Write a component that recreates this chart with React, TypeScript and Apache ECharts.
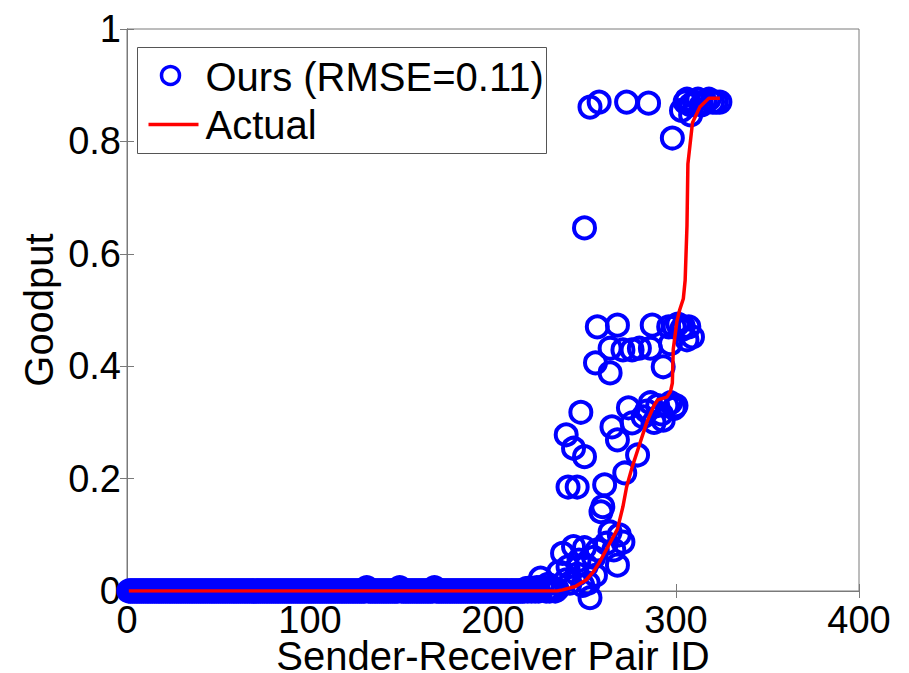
import React, { useEffect, useRef } from "react";
import * as echarts from "echarts";

// Ours (predicted goodput) for pair IDs 1..225 (read as the flat band at 0)
const oursFlatGoodput: number[] = [
  0, 0, 0, 0, 0, 0, 0, 0, 0, 0, 0, 0, 0, 0, 0, 0, 0, 0, 0, 0, 0, 0, 0, 0, 0,
  0, 0, 0, 0, 0, 0, 0, 0, 0, 0, 0, 0, 0, 0, 0, 0, 0, 0, 0, 0, 0, 0, 0, 0, 0,
  0, 0, 0, 0, 0, 0, 0, 0, 0, 0, 0, 0, 0, 0, 0, 0, 0, 0, 0, 0, 0, 0, 0, 0, 0,
  0, 0, 0, 0, 0, 0, 0, 0, 0, 0, 0, 0, 0, 0, 0, 0, 0, 0, 0, 0, 0, 0, 0, 0, 0,
  0, 0, 0, 0, 0, 0, 0, 0, 0, 0, 0, 0, 0, 0, 0, 0, 0, 0, 0, 0, 0, 0, 0, 0, 0,
  0, 0, 0, 0, 0, 0.006, 0, 0, 0, 0, 0, 0, 0, 0, 0, 0, 0, 0, 0, 0, 0, 0, 0, 0.006, 0,
  0, 0, 0, 0, 0, 0, 0, 0, 0, 0, 0, 0, 0, 0, 0, 0, 0, 0.006, 0, 0, 0, 0, 0, 0, 0,
  0, 0, 0, 0, 0, 0, 0, 0, 0, 0, 0, 0, 0, 0, 0, 0, 0, 0, 0, 0, 0, 0, 0, 0, 0,
  0, 0, 0, 0, 0, 0, 0, 0, 0, 0, 0, 0, 0, 0, 0, 0, 0, 0.004, 0, 0.005, 0, 0.004, 0, 0.006, 0,
];

// Ours for the rising part: [pair ID, goodput]
const oursRisingPoints: [number, number][] = [
  [226, 0.023], [227, 0.007], [229, 0], [230, 0.012], [231, 0], [232, 0.004], [233, 0.005],
  [234, 0], [235, 0.003], [236, 0.034], [238, 0.067],
  [240, 0.02], [241, 0.043], [242, 0.014], [244, 0.079], [246, 0.03], [247, 0.055],
  [249, 0.01], [250, 0.077], [251, 0.045], [252, 0.014], [253, -0.012], [255, 0.06],
  [256, 0.028], [257, 0.073], [259, 0.141], [260, 0.15], [262, 0.085], [264, 0.105],
  [266, 0.073], [268, 0.046], [269, 0.1], [271, 0.087],
  [240, 0.278], [241, 0.185], [244, 0.254], [246, 0.185], [248, 0.318], [250, 0.239],
  [261, 0.189], [265, 0.292], [268, 0.269], [272, 0.21], [274, 0.326], [276, 0.299],
  [279, 0.242], [282, 0.31], [284, 0.32], [286, 0.335], [288, 0.3], [290, 0.33],
  [292, 0.315], [293, 0.304], [295, 0.33], [297, 0.335], [299, 0.325], [300, 0.33],
  [256, 0.406], [257, 0.47], [264, 0.388], [264, 0.432], [268, 0.473], [271, 0.429],
  [276, 0.429], [280, 0.432], [286, 0.432], [287, 0.473], [293, 0.399], [296, 0.47],
  [297, 0.44], [299, 0.47], [301, 0.475], [303, 0.465], [304, 0.47], [306, 0.447],
  [307, 0.47], [309, 0.452],
  [250, 0.646], [253, 0.861], [258, 0.87], [273, 0.87], [285, 0.868], [298, 0.806],
  [303, 0.855], [305, 0.87], [306, 0.875], [308, 0.865], [308, 0.847], [310, 0.87],
  [312, 0.875], [314, 0.865], [316, 0.87], [318, 0.875], [320, 0.87], [322, 0.87],
  [324, 0.87],
];

// Actual goodput (sorted), read as [pair ID, goodput]
const actualPoints: [number, number][] = [
  [1, 0], [235, 0], [238, 0.002], [245, 0.008], [251, 0.02], [255, 0.035], [258, 0.05],
  [263, 0.08], [268, 0.11], [271, 0.15], [273, 0.185], [276, 0.22], [279, 0.25],
  [284, 0.3], [288, 0.33], [290, 0.34], [295, 0.345], [297, 0.355], [298, 0.37],
  [298.5, 0.43], [300.5, 0.48], [302, 0.5], [304, 0.52], [305, 0.553], [306, 0.65],
  [306.5, 0.76], [309, 0.833], [313, 0.861], [318, 0.877], [324, 0.877],
];

const xTicks = [0, 100, 200, 300, 400];
const yTicks = [0, 0.2, 0.4, 0.6, 0.8, 1];
const legendLabels = ["Ours (RMSE=0.11)", "Actual"];

const FONT = "Liberation Sans, Arial, Helvetica, sans-serif";
const BLUE = "#0000ff";
const RED = "#ff0000";

export default function App() {
  const ref = useRef<HTMLDivElement>(null);
  useEffect(() => {
    if (!ref.current) return;
    const chart = echarts.init(ref.current, undefined, { renderer: "svg" });
    const oursData: [number, number][] = oursFlatGoodput
      .map((v, i) => [i + 1, v] as [number, number])
      .concat(oursRisingPoints);
    const axisColor = "#7a7a7a";
    chart.setOption({
      animation: false,
      backgroundColor: "#ffffff",
      textStyle: { fontFamily: FONT },
      grid: {
        left: 127,
        top: 29,
        right: 50,
        bottom: 82,
        containLabel: false,
        outerBoundsMode: "none",
        show: true,
        borderColor: axisColor,
        borderWidth: 1,
        backgroundColor: "transparent",
      },
      xAxis: [
        {
          type: "value",
          min: xTicks[0],
          max: xTicks[xTicks.length - 1],
          interval: 100,
          name: "Sender-Receiver Pair ID",
          nameLocation: "middle",
          nameGap: 48,
          nameMoveOverlap: false,
          nameTextStyle: { fontSize: 40, lineHeight: 34, fontFamily: FONT, color: "#000" },
          axisLine: { show: true, onZero: false, lineStyle: { color: axisColor } },
          axisTick: { show: true, inside: true, length: 7, lineStyle: { color: axisColor } },
          axisLabel: { fontSize: 38, lineHeight: 32, fontFamily: FONT, color: "#000", margin: 13 },
          splitLine: { show: false },
        },
        {
          type: "value",
          position: "top",
          min: xTicks[0],
          max: xTicks[xTicks.length - 1],
          interval: 100,
          axisLine: { show: true, lineStyle: { color: axisColor } },
          axisTick: { show: true, inside: true, length: 7, lineStyle: { color: axisColor } },
          axisLabel: { show: false },
          splitLine: { show: false },
        },
      ],
      yAxis: [
        {
          type: "value",
          min: yTicks[0],
          max: yTicks[yTicks.length - 1],
          interval: 0.2,
          name: "Goodput",
          nameLocation: "middle",
          nameGap: 68,
          nameMoveOverlap: false,
          nameTextStyle: { fontSize: 40, fontFamily: FONT, color: "#000" },
          axisLine: { show: true, onZero: false, lineStyle: { color: axisColor } },
          axisTick: { show: true, inside: true, length: 7, lineStyle: { color: axisColor } },
          axisLabel: { fontSize: 38, fontFamily: FONT, color: "#000", margin: 6 },
          splitLine: { show: false },
        },
        {
          type: "value",
          position: "right",
          min: yTicks[0],
          max: yTicks[yTicks.length - 1],
          interval: 0.2,
          axisLine: { show: true, lineStyle: { color: axisColor } },
          axisTick: { show: true, inside: true, length: 7, lineStyle: { color: axisColor } },
          axisLabel: { show: false },
          splitLine: { show: false },
        },
      ],
      graphic: [
        {
          type: "group",
          left: 137,
          top: 47,
          z: 100,
          children: [
            {
              type: "rect",
              shape: { x: 0, y: 0, width: 409, height: 106 },
              style: { fill: "#ffffff", stroke: "#555", lineWidth: 1 },
            },
            {
              type: "circle",
              shape: { cx: 33, cy: 28, r: 9 },
              style: { fill: "none", stroke: BLUE, lineWidth: 3.5 },
            },
            {
              type: "text",
              style: {
                text: legendLabels[0],
                x: 68,
                y: 29,
                fontSize: 40,
                fontFamily: FONT,
                fill: "#000",
                verticalAlign: "middle",
              },
            },
            {
              type: "line",
              shape: { x1: 11, y1: 77, x2: 61, y2: 77 },
              style: { stroke: RED, lineWidth: 3.5 },
            },
            {
              type: "text",
              style: {
                text: legendLabels[1],
                x: 68,
                y: 77,
                fontSize: 40,
                fontFamily: FONT,
                fill: "#000",
                verticalAlign: "middle",
              },
            },
          ],
        },
      ],
      series: [
        {
          name: legendLabels[0],
          type: "scatter",
          symbol: "circle",
          symbolSize: 21,
          clip: false,
          itemStyle: {
            color: "rgba(0,0,0,0)",
            borderColor: BLUE,
            borderWidth: 4,
            opacity: 1,
          },
          data: oursData,
          z: 2,
        },
        {
          name: legendLabels[1],
          type: "line",
          symbol: "none",
          showSymbol: false,
          lineStyle: { color: RED, width: 3.5 },
          itemStyle: { color: RED },
          data: actualPoints,
          z: 3,
        },
      ],
    });
    return () => chart.dispose();
  }, []);
  return (
    <div
      ref={ref}
      style={{ position: "fixed", left: 0, top: 0, width: 909, height: 673, background: "#fff" }}
    />
  );
}
